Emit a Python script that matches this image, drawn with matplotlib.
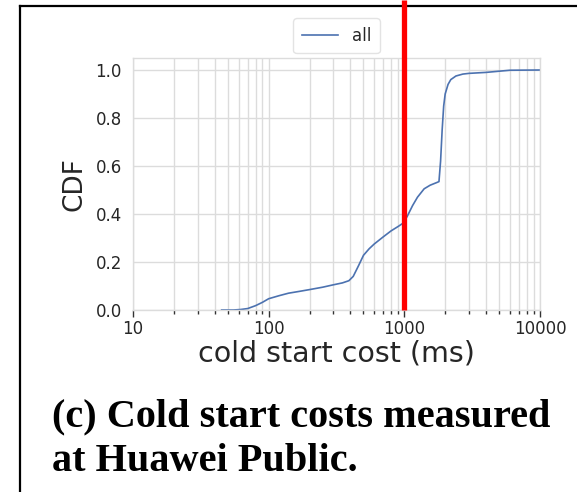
import numpy as np
import matplotlib
matplotlib.use("Agg")
import matplotlib.pyplot as plt
from matplotlib.lines import Line2D
from matplotlib.transforms import blended_transform_factory

# cold start cost samples (ms) and the cumulative fraction at each one
cost_ms = [45, 55, 62, 70, 80, 90, 100, 120, 140, 170, 200, 250, 300, 350, 390,
           420, 460, 500, 550, 600, 700, 800, 900, 980, 1050, 1150, 1250, 1400,
           1550, 1750, 1800, 1850, 1900, 1950, 2000, 2100, 2200, 2400, 2700,
           3000, 4000, 5000, 6000, 10000]
cdf = [0.0, 0.0, 0.002, 0.006, 0.018, 0.032, 0.047, 0.060, 0.070, 0.078, 0.085,
       0.095, 0.105, 0.113, 0.122, 0.14, 0.185, 0.228, 0.255, 0.275, 0.305, 0.33,
       0.348, 0.362, 0.39, 0.435, 0.47, 0.505, 0.52, 0.532, 0.535, 0.62, 0.75,
       0.85, 0.90, 0.94, 0.96, 0.975, 0.983, 0.986, 0.99, 0.995, 0.999, 1.0]
series_name = "all"
marker_ms = 1000
xticks = [10, 100, 1000, 10000]
yticks = [0.0, 0.2, 0.4, 0.6, 0.8, 1.0]
caption = ["(c) Cold start costs measured", "at Huawei Public."]

W, H = 577, 492
fig = plt.figure(figsize=(W / 100, H / 100), dpi=100)
ax = fig.add_axes([133 / W, 1 - 310 / H, (540 - 133) / W, (310 - 58) / H])

ax.plot(cost_ms, cdf, color="#4c72b0", lw=1.2, label=series_name)
ax.set_xscale("log")
ax.set_xlim(10, 10000)
ax.set_ylim(0, 1.05)
ax.set_xticks(xticks)
ax.set_xticklabels([str(t) for t in xticks])
ax.set_yticks(yticks)
ax.set_yticklabels([f"{t:.1f}" for t in yticks])

ax.grid(True, which="both", axis="x", color="#dcdcdc", lw=1.0)
ax.grid(True, which="major", axis="y", color="#dcdcdc", lw=1.0)
ax.set_axisbelow(True)
for s in ax.spines.values():
    s.set_color("#dcdcdc")
    s.set_linewidth(1.0)
ax.tick_params(axis="x", which="major", length=5, width=1, color="#333333",
               labelsize=12, labelcolor="#262626", pad=2)
ax.tick_params(axis="x", which="minor", length=3, width=1, color="#333333")
ax.tick_params(axis="y", length=0, labelsize=12, labelcolor="#262626", pad=8)

ax.set_xlabel("cold start cost (ms)", fontsize=20.5, color="#262626", labelpad=1)
ax.set_ylabel("CDF", fontsize=19, color="#262626", labelpad=6)

leg = ax.legend(loc="upper center", bbox_to_anchor=(0.5, 1.19), fontsize=12,
                frameon=True, handlelength=2.2, borderpad=0.5)
leg.get_frame().set_edgecolor("#dcdcdc")
leg.get_texts()[0].set_color("#262626")

# red marker at 1 s, running up to the top edge
trans = blended_transform_factory(ax.transData, fig.transFigure)
fig.add_artist(Line2D([marker_ms, marker_ms], [1 - 310 / H, 1.0], transform=trans,
                      color="red", lw=3.8, solid_capstyle="butt", zorder=10))

# frame lines on the left and top
fig.add_artist(Line2D([20 / W, 20 / W], [0, 1 - 6 / H], color="black", lw=1.6))
fig.add_artist(Line2D([20 / W, 1], [1 - 6 / H, 1 - 6 / H], color="black", lw=1.6))

for i, line in enumerate(caption):
    fig.text(52 / W, 1 - (426 + 45 * i) / H, line, fontsize=29, fontweight="bold",
             family="Liberation Serif", va="baseline", ha="left")

fig.savefig("out.png", dpi=100)
